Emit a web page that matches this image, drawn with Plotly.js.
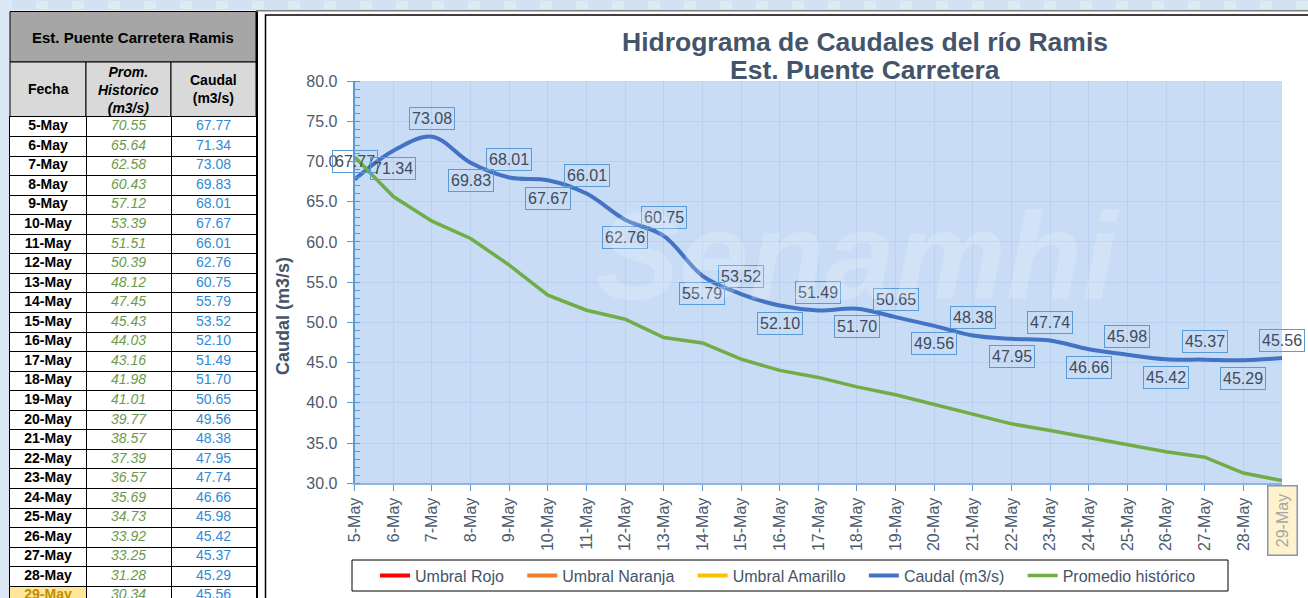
<!DOCTYPE html>
<html>
<head>
<meta charset="utf-8">
<script src="https://cdn.plot.ly/plotly-3.0.1.min.js"></script>
<style>
html,body{margin:0;padding:0;overflow:hidden;background:#fff;}
#chart{width:1308px;height:610px;}
</style>
</head>
<body>
<div id="chart"></div>
<script>
// ---- data ----
const fechas = ['5-May','6-May','7-May','8-May','9-May','10-May','11-May','12-May','13-May','14-May','15-May','16-May','17-May','18-May','19-May','20-May','21-May','22-May','23-May','24-May','25-May','26-May','27-May','28-May','29-May'];
const promHistorico = [70.55,65.64,62.58,60.43,57.12,53.39,51.51,50.39,48.12,47.45,45.43,44.03,43.16,41.98,41.01,39.77,38.57,37.39,36.57,35.69,34.73,33.92,33.25,31.28,30.34];
const caudal = [67.77,71.34,73.08,69.83,68.01,67.67,66.01,62.76,60.75,55.79,53.52,52.10,51.49,51.70,50.65,49.56,48.38,47.95,47.74,46.66,45.98,45.42,45.37,45.29,45.56];
const umbralRojo = [null];
const umbralNaranja = [null];
const umbralAmarillo = [null];
const yTicks = [30,35,40,45,50,55,60,65,70,75,80];
const tableTitle = 'Est. Puente Carretera Ramis';
const tableHeaders = ['<b>Fecha</b>', '<b><i>Prom.<br>Historico<br>(m3/s)</i></b>', '<b>Caudal<br>(m3/s)</b>'];
const chartTitle = ['Hidrograma de Caudales del río Ramis', 'Est. Puente Carretera'];

// ---- layout helpers (pixel -> paper) ----
const W = 1308, H = 610;
const fx = x => x / W;
const fy = y => 1 - y / H;

const txtColor = '#44546a';
const tickColor = '#4d5a6d';
const axisBlue = '#5b9bd5';
const FONT = 'Liberation Sans, Arial, sans-serif';
const last = fechas.length - 1;
const pad = '\u00a0\u00a0\u00a0';

// table geometry (x2 axis units = px from table left edge)
const tblLeft = 10, tblRight = 256;
const colBounds = [0, 76, 161, 246];
const colCenter = c => (colBounds[c] + colBounds[c+1]) / 2;
const rowH = 19.55, tblTop = 117;

const textCol = (c) => fechas.map(() => colCenter(c));

const traces = [
  {type:'scatter', mode:'lines', name:'Umbral Rojo'+pad, x: umbralRojo.map((v,i)=>fechas[i]), y: umbralRojo, line:{color:'#ff0000', width:4}},
  {type:'scatter', mode:'lines', name:'Umbral Naranja'+pad, x: umbralNaranja.map((v,i)=>fechas[i]), y: umbralNaranja, line:{color:'#ed7d31', width:4}},
  {type:'scatter', mode:'lines', name:'Umbral Amarillo'+pad, x: umbralAmarillo.map((v,i)=>fechas[i]), y: umbralAmarillo, line:{color:'#ffc000', width:4}},
  {type:'scatter', mode:'lines', name:'Caudal (m3/s)'+pad, x: fechas, y: caudal, line:{color:'#4472c4', width:4, shape:'spline', smoothing:1}},
  {type:'scatter', mode:'lines', name:'Promedio histórico', x: fechas, y: promHistorico, line:{color:'#70ad47', width:3.5}},
  // table body as text on its own subplot
  {type:'scatter', mode:'text', xaxis:'x2', yaxis:'y2', showlegend:false, hoverinfo:'skip',
   x: textCol(0), y: fechas, text: fechas, textposition:'middle center',
   textfont:{family:FONT, size:14, weight:'bold', color: fechas.map((f,i)=> i===last ? '#bf8f00' : '#000000')}},
  {type:'scatter', mode:'text', xaxis:'x2', yaxis:'y2', showlegend:false, hoverinfo:'skip',
   x: textCol(1), y: fechas, text: promHistorico.map(v=>v.toFixed(2)), textposition:'middle center',
   textfont:{family:FONT, size:14, style:'italic', color:'#6a9a4b'}},
  {type:'scatter', mode:'text', xaxis:'x2', yaxis:'y2', showlegend:false, hoverinfo:'skip',
   x: textCol(2), y: fechas, text: caudal.map(v=>v.toFixed(2)), textposition:'middle center',
   textfont:{family:FONT, size:14, color:'#2e8ad8'}}
];

const labelAnns = caudal.map((v,i)=>({
  x: fechas[i], y: v, xref:'x', yref:'y', xanchor:'center', yanchor:'middle',
  text: v.toFixed(2), showarrow:false,
  yshift: (i % 2 === 0) ? 18 : -18,
  bordercolor: axisBlue, borderwidth:1, borderpad:2,
  font:{family:FONT, size:16, color:'#404b5c'}
}));

const shapes = [];
// top decorative strip
shapes.push({type:'rect', xref:'paper', yref:'paper', x0:0, x1:1, y0:fy(10.5), y1:1, fillcolor:'#d3e1f2', line:{width:0}, layer:'below'});
for (let k = 0; k * 18 < W; k++) {
  if (k % 2 === 0) shapes.push({type:'rect', xref:'paper', yref:'paper', x0:fx(k*18), x1:fx(k*18+12), y0:fy(9), y1:fy(1), fillcolor:'#dcedf2', line:{width:0}, layer:'below'});
}
// left strip
shapes.push({type:'rect', xref:'paper', yref:'paper', x0:0, x1:fx(10), y0:0, y1:1, fillcolor:'#dbe7f4', line:{width:0}, layer:'below'});
// grey line under the strip
shapes.push({type:'line', xref:'paper', yref:'paper', x0:fx(256), x1:1, y0:fy(10.8), y1:fy(10.8), line:{color:'#7f7f7f', width:1.5}, layer:'below'});
// chart frame
shapes.push({type:'rect', xref:'paper', yref:'paper', x0:fx(265.5), x1:fx(1310), y0:fy(612), y1:fy(15), line:{color:'#000000', width:1.5}, fillcolor:'rgba(0,0,0,0)', layer:'below'});
// table title cell
shapes.push({type:'rect', xref:'paper', yref:'paper', x0:fx(tblLeft), x1:fx(tblRight), y0:fy(62), y1:fy(11.5), fillcolor:'#a6a6a6', line:{color:'#000000', width:1}, layer:'below'});
// table header cells
for (let c = 0; c < 3; c++) {
  shapes.push({type:'rect', xref:'paper', yref:'paper', x0:fx(tblLeft+colBounds[c]), x1:fx(tblLeft+colBounds[c+1]), y0:fy(tblTop), y1:fy(62), fillcolor:'#d9d9d9', line:{color:'#000000', width:1}, layer:'below'});
}
// table body background + highlighted last date cell (in table subplot coords)
shapes.push({type:'rect', xref:'x2', yref:'y2', x0:colBounds[0], x1:colBounds[3], y0:-0.5, y1:last+0.5, fillcolor:'#ffffff', line:{width:0}, layer:'below'});
shapes.push({type:'rect', xref:'x2', yref:'y2', x0:colBounds[0], x1:colBounds[1], y0:last-0.5, y1:last+0.5, fillcolor:'#ffe699', line:{width:0}, layer:'below'});
// table thick right edge
shapes.push({type:'line', xref:'paper', yref:'paper', x0:fx(257), x1:fx(257), y0:0, y1:fy(11.5), line:{color:'#000000', width:2}, layer:'above'});
// legend box
shapes.push({type:'rect', xref:'paper', yref:'paper', x0:fx(352), x1:fx(1228), y0:fy(591), y1:fy(560), fillcolor:'#ffffff', line:{color:'#000000', width:1}, layer:'below'});

const headerAnns = tableHeaders.map((t,c)=>({
  xref:'paper', yref:'paper', x:fx(tblLeft+colCenter(c)), y:fy(c===1 ? 90.5 : 89.5), xanchor:'center', yanchor:'middle',
  text:t, showarrow:false, font:{family:FONT, size:14, color:'#000000'}
}));

const annotations = labelAnns.concat(headerAnns, [
  {xref:'paper', yref:'paper', x:fx(865), y:fy(42), xanchor:'center', yanchor:'middle', text:'<b>'+chartTitle[0]+'</b>', showarrow:false, font:{family:FONT, size:26.5, color:txtColor}},
  {xref:'paper', yref:'paper', x:fx(865), y:fy(70), xanchor:'center', yanchor:'middle', text:'<b>'+chartTitle[1]+'</b>', showarrow:false, font:{family:FONT, size:26.5, color:txtColor}},
  {xref:'paper', yref:'paper', x:fx(133), y:fy(37), xanchor:'center', yanchor:'middle', text:'<b>'+tableTitle+'</b>', showarrow:false, font:{family:FONT, size:15, color:'#000000'}},
  {xref:'paper', yref:'paper', x:fx(283), y:fy(316), xanchor:'center', yanchor:'middle', text:'<b>Caudal (m3/s)</b>', textangle:-90, showarrow:false, font:{family:FONT, size:18, color:txtColor}},
  {xref:'paper', yref:'paper', x:fx(858), y:fy(255), xanchor:'center', yanchor:'middle', text:'Senamhi', showarrow:false, font:{family:FONT, size:125, color:'rgba(255,255,255,0.2)', weight:'bold', style:'italic'}},
  {xref:'x', yref:'paper', x:fechas[last], y:fy(521), xanchor:'center', yanchor:'middle', text:fechas[last], textangle:-90, showarrow:false,
   width:68, height:28, borderpad:0, align:'center', valign:'middle',
   bgcolor:'#fff2cc', bordercolor:'#8497b0', borderwidth:1.5, font:{family:FONT, size:16, color:'#a6a6a6'}}
]);

const layout = {
  width:W, height:H,
  margin:{l:0, r:0, t:0, b:0, pad:0},
  paper_bgcolor:'#ffffff',
  plot_bgcolor:'#c9dcf5',
  font:{family:FONT, color:tickColor},
  showlegend:true,
  legend:{orientation:'h', x:fx(788), xanchor:'center', y:fy(575.5), yanchor:'middle', bgcolor:'rgba(0,0,0,0)', borderwidth:0, font:{family:FONT, size:16, color:txtColor}, traceorder:'normal'},
  xaxis:{
    type:'category', domain:[fx(354.7), fx(1282)], range:[0, last], automargin:false,
    tickangle:-90, ticks:'outside', ticklen:6, tickcolor:axisBlue, tickwidth:1,
    showline:true, linecolor:'#8db4e2', linewidth:2,
    showgrid:true, gridcolor:'#b9d0ee', gridwidth:1,
    tickfont:{family:FONT, size:16, color:tickColor}, fixedrange:true
  },
  yaxis:{
    domain:[fy(483.3), fy(81)], range:[30,80], automargin:false,
    tickvals:yTicks, tickformat:'.1f', ticks:'outside', ticklen:6, tickcolor:axisBlue, tickwidth:1, ticklabelstandoff:6,
    minor:{dtick:1, ticks:'inside', ticklen:5, tickcolor:axisBlue, showgrid:false},
    showline:true, linecolor:axisBlue, linewidth:2, zeroline:false,
    showgrid:true, gridcolor:'#b9d0ee', gridwidth:1,
    tickfont:{family:FONT, size:16, color:tickColor}, fixedrange:true
  },
  xaxis2:{
    anchor:'y2', domain:[fx(tblLeft), fx(tblRight)], range:[colBounds[0], colBounds[3]], automargin:false,
    tickvals:[colBounds[1], colBounds[2]], showticklabels:false, ticks:'',
    showgrid:true, gridcolor:'#000000', gridwidth:1, zeroline:false,
    showline:true, mirror:true, linecolor:'#000000', linewidth:1, fixedrange:true
  },
  yaxis2:{
    anchor:'x2', type:'category', categoryarray:fechas, categoryorder:'array',
    domain:[fy(tblTop + rowH*fechas.length), fy(tblTop)], range:[last+0.5, -0.5], automargin:false,
    tickson:'boundaries', showticklabels:false, ticks:'',
    showgrid:true, gridcolor:'#000000', gridwidth:1, zeroline:false,
    showline:true, mirror:true, linecolor:'#000000', linewidth:1, fixedrange:true
  },
  shapes:shapes,
  annotations:annotations
};

Plotly.newPlot('chart', traces, layout, {displayModeBar:false});
</script>
</body>
</html>
